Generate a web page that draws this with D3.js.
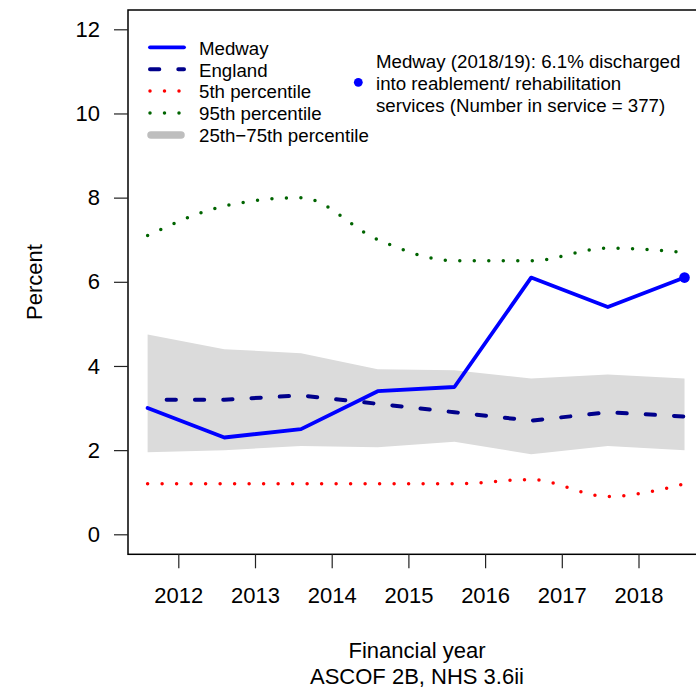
<!DOCTYPE html>
<html>
<head>
<meta charset="utf-8">
<script src="https://cdn.jsdelivr.net/npm/d3@7"></script>
<style>
  html, body { margin: 0; padding: 0; background: #fff; }
  svg { display: block; font-family: "Liberation Sans", Arial, Helvetica, sans-serif; }
</style>
</head>
<body>
<svg id="chart" width="696" height="690"></svg>
<script>
// ---- data ----
const finYears = ["2011/12", "2012/13", "2013/14", "2014/15", "2015/16", "2016/17", "2017/18", "2018/19"];
const medway   = [3.0, 2.3, 2.5, 3.4, 3.5, 6.1, 5.4, 6.1];
const england  = [3.2, 3.2, 3.3, 3.1, 2.9, 2.7, 2.9, 2.8];
const p5       = [1.2, 1.2, 1.2, 1.2, 1.2, 1.3, 0.9, 1.2];
const p95      = [7.1, 7.8, 8.0, 7.0, 6.5, 6.5, 6.8, 6.7];
const p25      = [1.95, 2.0, 2.1, 2.07, 2.2, 1.9, 2.1, 2.0];
const p75      = [4.75, 4.4, 4.3, 3.92, 3.9, 3.7, 3.8, 3.7];
const xTicks   = [2012, 2013, 2014, 2015, 2016, 2017, 2018];
const yTicks   = [0, 2, 4, 6, 8, 10, 12];
const legendLabels = ["Medway", "England", "5th percentile", "95th percentile", "25th\u221275th percentile"];
const noteLines = ["Medway (2018/19): 6.1% discharged", "into reablement/ rehabilitation", "services (Number in service = 377)"];

// ---- layout ----
const svg = d3.select("#chart");
const box = { left: 128, right: 706, top: 10, bottom: 554.3 };
const x = d3.scaleLinear().domain([2012, 2018]).range([178.3, 638.5]);
const y = d3.scaleLinear().domain([0, 12]).range([534.3, 29.3]);
const xPos = (fy) => +fy.slice(0, 4) + 0.6;   // financial year plotted mid-year
const rows = finYears.map((fy, i) => ({ fy, xv: xPos(fy), medway: medway[i], england: england[i], p5: p5[i], p95: p95[i], p25: p25[i], p75: p75[i] }));

const BLUE = "#0000ff", NAVY = "#00008b", RED = "#ff0000", GREEN = "#006400";
const BAND = "#dbdbdb", BAND_LEG = "#bebebe";

// band
svg.append("path")
  .datum(rows)
  .attr("d", d3.area().x(d => x(d.xv)).y0(d => y(d.p25)).y1(d => y(d.p75)))
  .attr("fill", BAND);

const lineOf = (key, curve) => d3.line().x(d => x(d.xv)).y(d => y(d[key])).curve(curve || d3.curveLinear);

// percentile splines (dotted)
svg.append("path").datum(rows).attr("d", lineOf("p5", d3.curveMonotoneX))
  .attr("fill", "none").attr("stroke", RED).attr("stroke-width", 3.5)
  .attr("stroke-linecap", "round").attr("stroke-dasharray", "0,14.5");
svg.append("path").datum(rows).attr("d", lineOf("p95", d3.curveMonotoneX))
  .attr("fill", "none").attr("stroke", GREEN).attr("stroke-width", 3.5)
  .attr("stroke-linecap", "round").attr("stroke-dasharray", "0,14.5");

// England dashed
svg.append("path").datum(rows).attr("d", lineOf("england"))
  .attr("fill", "none").attr("stroke", NAVY).attr("stroke-width", 4)
  .attr("stroke-linecap", "round").attr("stroke-dasharray", "9.3,19").attr("stroke-dashoffset", 9.3);

// Medway solid
svg.append("path").datum(rows).attr("d", lineOf("medway"))
  .attr("fill", "none").attr("stroke", BLUE).attr("stroke-width", 3.8)
  .attr("stroke-linejoin", "round").attr("stroke-linecap", "round");

const last = rows[rows.length - 1];
svg.append("circle").attr("cx", x(last.xv)).attr("cy", y(last.medway)).attr("r", 5.3).attr("fill", BLUE);

// box
svg.append("rect")
  .attr("x", box.left).attr("y", box.top)
  .attr("width", box.right - box.left).attr("height", box.bottom - box.top)
  .attr("fill", "none").attr("stroke", "#000").attr("stroke-width", 1.5);

// axes
const gy = svg.append("g").attr("transform", `translate(${box.left},0)`)
  .call(d3.axisLeft(y).tickValues(yTicks).tickFormat(d3.format("d")).tickSize(14).tickPadding(14));
const gx = svg.append("g").attr("transform", `translate(0,${box.bottom})`)
  .call(d3.axisBottom(x).tickValues(xTicks).tickFormat(d3.format("d")).tickSize(14).tickPadding(19));
[gy, gx].forEach(g => {
  g.select(".domain").remove();
  g.selectAll(".tick line").attr("stroke", "#222").attr("stroke-width", 1.2);
  g.selectAll("text").attr("font-size", 22).attr("fill", "#000")
    .attr("font-family", '"Liberation Sans", Arial, Helvetica, sans-serif');
});

// axis titles
svg.append("text").attr("transform", "translate(42,282) rotate(-90)")
  .attr("text-anchor", "middle").attr("font-size", 22).text("Percent");
svg.append("text").attr("x", 417).attr("y", 658).attr("text-anchor", "middle").attr("font-size", 22).text("Financial year");
svg.append("text").attr("x", 417).attr("y", 684).attr("text-anchor", "middle").attr("font-size", 22).text("ASCOF 2B, NHS 3.6ii");

// legend
const leg = svg.append("g");
const legY = (i) => 47.3 + i * 21.9;
const lx0 = 150, lx1 = 184;
const legStyles = [
  { stroke: BLUE, w: 3.8, dash: null },
  { stroke: NAVY, w: 4, dash: "9.3,19" },
  { stroke: RED, w: 3.5, dash: "0,14.5" },
  { stroke: GREEN, w: 3.5, dash: "0,14.5" },
  { stroke: BAND_LEG, w: 7.5, dash: null }
];
legendLabels.forEach((lab, i) => {
  const s = legStyles[i];
  const ln = leg.append("line")
    .attr("x1", i === 4 ? 151 : lx0).attr("x2", i === 4 ? 181 : (i >= 2 ? 180 : lx1))
    .attr("y1", legY(i)).attr("y2", legY(i))
    .attr("stroke", s.stroke).attr("stroke-width", s.w).attr("stroke-linecap", "round");
  if (s.dash) ln.attr("stroke-dasharray", s.dash);
  leg.append("text").attr("x", 199).attr("y", legY(i) + 7.3)
    .attr("font-size", 18.7).text(lab);
});

// annotation
svg.append("circle").attr("cx", 358.3).attr("cy", 82.3).attr("r", 4.4).attr("fill", BLUE);
noteLines.forEach((t, i) => {
  svg.append("text").attr("x", 376).attr("y", 68.3 + i * 21.7).attr("font-size", 18.7).text(t);
});
</script>
</body>
</html>
